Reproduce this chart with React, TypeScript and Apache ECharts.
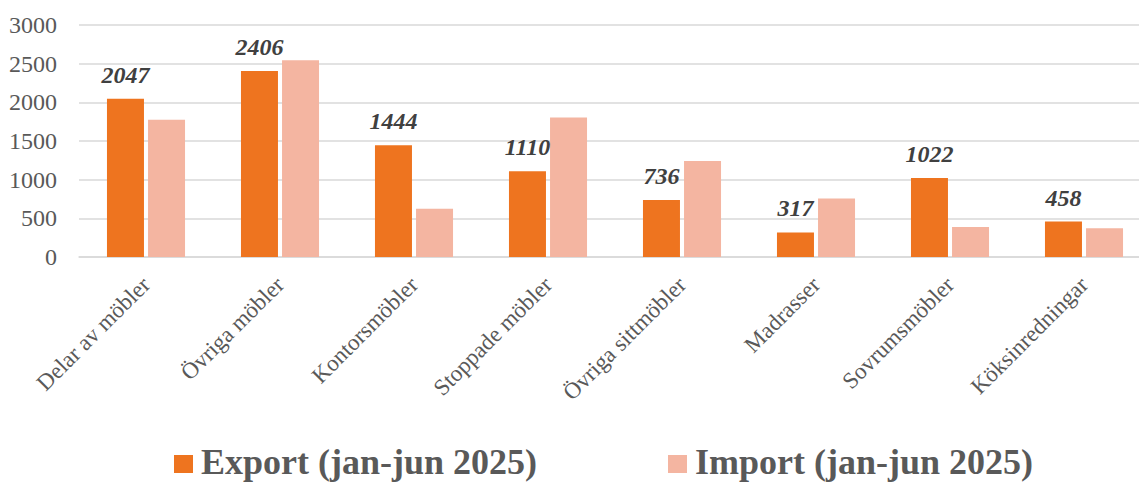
import React, { useEffect, useRef } from "react";
import * as echarts from "echarts";

const categories = [
  "Delar av möbler",
  "Övriga möbler",
  "Kontorsmöbler",
  "Stoppade möbler",
  "Övriga sittmöbler",
  "Madrasser",
  "Sovrumsmöbler",
  "Köksinredningar",
];
const exportValues = [2047, 2406, 1444, 1110, 736, 317, 1022, 458];
const importValues = [1775, 2545, 625, 1803, 1240, 757, 387, 372];
const exportName = "Export (jan-jun 2025)";
const importName = "Import (jan-jun 2025)";

const EXPORT_COLOR = "#EE741F";
const IMPORT_COLOR = "#F4B5A1";
const FONT = "'Liberation Serif', 'Times New Roman', serif";

export default function App() {
  const ref = useRef<HTMLDivElement>(null);
  useEffect(() => {
    document.body.style.margin = "0";
    const chart = echarts.init(ref.current!, null, { renderer: "svg" });
    chart.setOption({
      animation: false,
      backgroundColor: "#ffffff",
      textStyle: { fontFamily: FONT },
      grid: {
        left: 79,
        top: 25,
        height: 232,
        width: 1072,
        containLabel: false,
        outerBoundsMode: "none",
      },
      xAxis: {
        type: "category",
        data: categories,
        axisLine: { show: true, lineStyle: { color: "#d9d9d9", width: 1.5 } },
        axisTick: { show: false },
        axisLabel: {
          rotate: 45,
          interval: 0,
          margin: 24,
          fontSize: 23,
          color: "#595959",
          fontFamily: FONT,
        },
      },
      yAxis: {
        type: "value",
        min: 0,
        max: 3000,
        interval: 500,
        axisLine: { show: false },
        axisTick: { show: false },
        splitLine: { lineStyle: { color: "#d9d9d9", width: 1.5 } },
        axisLabel: {
          fontSize: 24,
          color: "#595959",
          margin: 22,
          fontFamily: FONT,
          formatter: (v: number) => String(v),
        },
      },
      series: [
        {
          name: exportName,
          type: "bar",
          data: exportValues,
          barWidth: 37,
          barGap: "11%",
          itemStyle: { color: EXPORT_COLOR },
          label: {
            show: true,
            position: "top",
            distance: 12,
            fontSize: 24,
            fontWeight: "bold",
            fontStyle: "italic",
            color: "#404040",
            fontFamily: FONT,
          },
        },
        {
          name: importName,
          type: "bar",
          data: importValues,
          barWidth: 37,
          barGap: "11%",
          itemStyle: { color: IMPORT_COLOR },
        },
      ],
      graphic: [
        { type: "rect", shape: { x: 174, y: 455, width: 19, height: 18 }, style: { fill: EXPORT_COLOR } },
        {
          type: "text",
          x: 201,
          y: 462,
          style: {
            text: exportName,
            fontSize: 36,
            fontWeight: "bold",
            fontFamily: FONT,
            fill: "#595959",
            align: "left",
            verticalAlign: "middle",
          },
        },
        { type: "rect", shape: { x: 668, y: 455, width: 19, height: 18 }, style: { fill: IMPORT_COLOR } },
        {
          type: "text",
          x: 695,
          y: 462,
          style: {
            text: importName,
            fontSize: 36,
            fontWeight: "bold",
            fontFamily: FONT,
            fill: "#595959",
            align: "left",
            verticalAlign: "middle",
          },
        },
      ],
    });
    return () => chart.dispose();
  }, []);
  return <div ref={ref} style={{ width: 1139, height: 483 }} />;
}
